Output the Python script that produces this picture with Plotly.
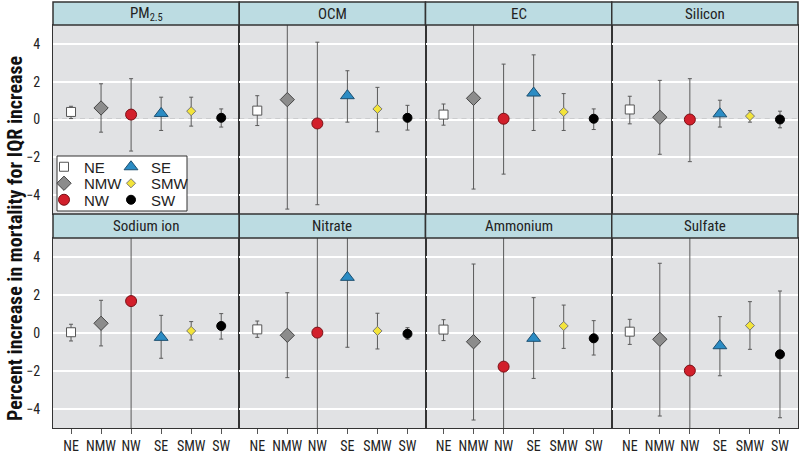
import plotly.graph_objects as go

# ---------------- data ----------------
regions = ["NE", "NMW", "NW", "SE", "SMW", "SW"]
panels = ["PM<sub>2.5</sub>", "OCM", "EC", "Silicon", "Sodium ion", "Nitrate", "Ammonium", "Sulfate"]

pm25_est = [0.40, 0.61, 0.26, 0.32, 0.44, 0.09]
pm25_lo = [0.05, -0.67, -1.67, -0.58, -0.35, -0.40]
pm25_hi = [0.70, 1.89, 2.16, 1.18, 1.18, 0.56]

ocm_est = [0.47, 1.05, -0.21, 1.26, 0.56, 0.09]
ocm_lo = [-0.32, -4.74, -4.51, -0.14, -0.65, -0.56]
ocm_hi = [1.26, 6.90, 4.09, 2.58, 1.70, 0.75]

ec_est = [0.26, 1.12, 0.04, 1.40, 0.40, 0.04]
ec_lo = [-0.30, -3.68, -2.89, -0.58, -0.58, -0.53]
ec_hi = [0.82, 5.90, 2.93, 3.42, 1.37, 0.56]

si_est = [0.53, 0.12, 0.00, 0.30, 0.18, 0.00]
si_lo = [-0.23, -1.84, -2.23, -0.40, -0.14, -0.44]
si_hi = [1.23, 2.07, 2.16, 1.02, 0.47, 0.44]

na_est = [0.04, 0.51, 1.68, -0.23, 0.11, 0.37]
na_lo = [-0.42, -0.68, -6.20, -1.33, -0.37, -0.32]
na_hi = [0.46, 1.72, 9.60, 0.93, 0.60, 1.02]

no3_est = [0.19, -0.12, 0.02, 2.93, 0.11, -0.04]
no3_lo = [-0.23, -2.35, -7.50, -0.75, -0.84, -0.33]
no3_hi = [0.63, 2.12, 7.60, 6.60, 1.04, 0.28]

nh4_est = [0.18, -0.46, -1.77, -0.28, 0.37, -0.28]
nh4_lo = [-0.40, -4.58, -9.00, -2.39, -0.81, -1.16]
nh4_hi = [0.70, 3.63, 5.50, 1.86, 1.47, 0.65]

so4_est = [0.07, -0.33, -1.98, -0.67, 0.39, -1.12]
so4_lo = [-0.60, -4.37, -9.50, -2.25, -0.86, -4.46]
so4_hi = [0.72, 3.67, 5.50, 0.86, 1.65, 2.21]

yticks = [-4, -2, 0, 2, 4]

panel_data = [
    (pm25_est, pm25_lo, pm25_hi), (ocm_est, ocm_lo, ocm_hi),
    (ec_est, ec_lo, ec_hi), (si_est, si_lo, si_hi),
    (na_est, na_lo, na_hi), (no3_est, no3_lo, no3_hi),
    (nh4_est, nh4_lo, nh4_hi), (so4_est, so4_lo, so4_hi),
]

# ---------------- styles ----------------
FONT = "Liberation Sans Narrow, Roboto Condensed, DejaVu Sans Condensed, Arial Narrow, sans-serif"
PANEL_BG = "#e1e2e4"
styles = {
    "NE": dict(symbol="square", size=9, color="white", line=dict(color="#555555", width=1)),
    "NMW": dict(symbol="diamond", size=11, color="#8c8c8c", line=dict(color="#444444", width=1)),
    "NW": dict(symbol="circle", size=11, color="#d21f2b", line=dict(color="#7a1016", width=1)),
    "SE": dict(symbol="triangle-up", size=12, color="#2b8cc4", line=dict(color="#1c4f70", width=1)),
    "SMW": dict(symbol="diamond", size=7, color="#f3e43a", line=dict(color="#777777", width=1)),
    "SW": dict(symbol="circle", size=9, color="#000000", line=dict(color="#000000", width=1)),
}

W, H = 800, 454
L, R, T, B = 53, 2, 2, 26
pw, ph = W - L - R, H - T - B


def fy(p):
    return (H - B - p) / ph


def fx(p):
    return (p - L) / pw


panel_top = [25, 238]
panel_bot = [214, 428]
strip_top = [2, 214]

fig = go.Figure()
layout = {}
shapes = []
annotations = []

leg_pos = {"NE": (64, 167), "NMW": (64, 183.5), "NW": (64, 200),
           "SE": (131, 167), "SMW": (131, 183.5), "SW": (131, 200)}

for k in range(8):
    r, c = k // 4, k % 4
    xs = "" if k == 0 else str(k + 1)
    est, lo, hi = panel_data[k]
    for j, reg in enumerate(regions):
        st = styles[reg]
        fig.add_trace(go.Scatter(
            x=[reg], y=[est[j]], mode="markers", name=reg,
            xaxis="x" + xs, yaxis="y" + xs,
            legendgroup=reg, showlegend=(k == 0),
            legend="legend" if j == 0 else "legend" + str(j + 1),
            marker=dict(symbol=st["symbol"], size=st["size"], color=st["color"], line=st["line"]),
            error_y=dict(type="data", symmetric=False, array=[hi[j] - est[j]],
                         arrayminus=[est[j] - lo[j]], color="#5a5a5a", thickness=1, width=2),
            hoverinfo="name+y",
        ))
    xd = [c / 4, (c + 1) / 4]
    yd = [fy(panel_bot[r]), fy(panel_top[r])]
    layout["xaxis" + xs] = dict(
        domain=xd, anchor="y" + xs, type="category", categoryorder="array",
        categoryarray=regions, range=[-0.6, 5.6], showgrid=False, zeroline=False,
        showline=True, mirror=True, linecolor="#333333", linewidth=1,
        showticklabels=(r == 1), ticks="outside" if r == 1 else "", ticklen=5,
        ticklabelstandoff=0, automargin=False,
        tickcolor="#555555", tickfont=dict(family=FONT, size=14, color="#222222"),
        fixedrange=True,
    )
    layout["yaxis" + xs] = dict(
        domain=yd, anchor="x" + xs, range=[-5, 5], tickvals=yticks,
        showgrid=True, gridcolor="white", gridwidth=1.5, zeroline=False,
        showline=True, mirror=True, linecolor="#333333", linewidth=1,
        showticklabels=(c == 0), ticks="", ticklabelstandoff=9, automargin=False,
        tickfont=dict(family=FONT, size=14, color="#222222"), fixedrange=True,
    )
    # zero reference line
    shapes.append(dict(type="line", xref="x" + xs + " domain", yref="y" + xs,
                       x0=0, x1=1, y0=0, y1=0, layer="below",
                       line=dict(color=PANEL_BG, width=2)))
    shapes.append(dict(type="line", xref="x" + xs + " domain", yref="y" + xs,
                       x0=0, x1=1, y0=0, y1=0, layer="below",
                       line=dict(color="#8a8a8a", width=1.3, dash="5px,4px")))
    # strip
    shapes.append(dict(type="rect", xref="paper", yref="paper",
                       x0=xd[0], x1=xd[1], y0=fy(panel_top[r]), y1=fy(strip_top[r]),
                       fillcolor="#bcdce2", line=dict(color="#333333", width=1.5), layer="above"))
    annotations.append(dict(text=panels[k], xref="paper", yref="paper",
                            x=(xd[0] + xd[1]) / 2, y=(fy(panel_top[r]) + fy(strip_top[r])) / 2,
                            xanchor="center", yanchor="middle", showarrow=False,
                            font=dict(family=FONT, size=15, color="#222222")))

# legend box
shapes.append(dict(type="rect", xref="paper", yref="paper",
                   x0=fx(57), x1=fx(187), y0=fy(211), y1=fy(156),
                   fillcolor="white", line=dict(color="#333333", width=1), layer="above"))

for j, reg in enumerate(regions):
    key = "legend" if j == 0 else "legend" + str(j + 1)
    sx, sy = leg_pos[reg]
    layout[key] = dict(x=fx(sx - 20), y=fy(sy), xanchor="left", yanchor="middle",
                       bgcolor="rgba(0,0,0,0)", borderwidth=0,
                       font=dict(family="Liberation Sans, Arial, sans-serif", size=15, color="#222222"),
                       itemclick=False, itemdoubleclick=False)

# y axis title
annotations.append(dict(text="<b>Percent increase in mortality for IQR increase</b>",
                        xref="paper", yref="paper", x=fx(15), y=fy(239),
                        xanchor="center", yanchor="middle", textangle=-90, showarrow=False,
                        font=dict(family=FONT, size=20, color="#111111")))

fig.update_layout(
    width=W, height=H, margin=dict(l=L, r=R, t=T, b=B, autoexpand=False),
    paper_bgcolor="white", plot_bgcolor=PANEL_BG,
    shapes=shapes, annotations=annotations, **layout,
)

fig.write_html("out.html", config={"displayModeBar": False},
               post_script="document.body.style.margin='0';document.body.style.overflow='hidden';")
